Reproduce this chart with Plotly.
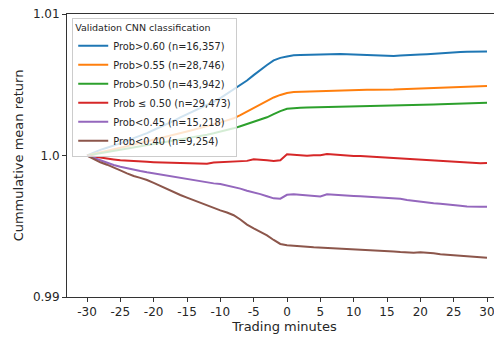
import plotly.graph_objects as go

minutes = list(range(-30, 31))
tick_minutes = list(range(-30, 31, 5))
tick_labels = [str(m) for m in tick_minutes]

names = ["Prob>0.60 (n=16,357)", "Prob>0.55 (n=28,746)", "Prob>0.50 (n=43,942)",
         "Prob \u2264 0.50 (n=29,473)", "Prob<0.45 (n=15,218)", "Prob<0.40 (n=9,254)"]
colors = ["#1f77b4", "#ff7f0e", "#2ca02c", "#d62728", "#9467bd", "#8c564b"]

p60 = [1.0, 1.00022, 1.00040, 1.00055, 1.00068, 1.00086, 1.00105, 1.00122, 1.00140, 1.00158,
       1.00180, 1.00200, 1.00222, 1.00244, 1.00270, 1.00292, 1.00312, 1.00333, 1.00355, 1.00380,
       1.00405, 1.00435, 1.00465, 1.00495, 1.00530, 1.00568, 1.00605, 1.00640, 1.00672, 1.00690,
       1.00700, 1.00708, 1.00710, 1.00712, 1.00713, 1.00715, 1.00714, 1.00716, 1.00718, 1.00716,
       1.00714, 1.00712, 1.00709, 1.00706, 1.00704, 1.00703, 1.00704, 1.00706, 1.00710, 1.00712,
       1.00714, 1.00716, 1.00720, 1.00723, 1.00726, 1.00728, 1.00731, 1.00733, 1.00734, 1.00734,
       1.00735]
p55 = [1.0, 1.00010, 1.00022, 1.00033, 1.00044, 1.00055, 1.00066, 1.00077, 1.00088, 1.00100,
       1.00111, 1.00122, 1.00134, 1.00146, 1.00158, 1.00170, 1.00182, 1.00194, 1.00207, 1.00220,
       1.00234, 1.00248, 1.00263, 1.00285, 1.00310, 1.00335, 1.00360, 1.00385, 1.00410, 1.00428,
       1.00442, 1.00448, 1.00450, 1.00452, 1.00454, 1.00456, 1.00457, 1.00459, 1.00461, 1.00462,
       1.00463, 1.00464, 1.00465, 1.00464, 1.00463, 1.00464, 1.00466, 1.00468, 1.00470, 1.00472,
       1.00474, 1.00476, 1.00478, 1.00480, 1.00482, 1.00484, 1.00486, 1.00488, 1.00489, 1.00490,
       1.00491]
p50 = [1.0, 1.00008, 1.00016, 1.00024, 1.00031, 1.00039, 1.00047, 1.00055, 1.00063, 1.00072,
       1.00080, 1.00088, 1.00095, 1.00102, 1.00110, 1.00118, 1.00127, 1.00137, 1.00147, 1.00157,
       1.00168, 1.00180, 1.00192, 1.00207, 1.00222, 1.00237, 1.00252, 1.00270, 1.00292, 1.00314,
       1.00330, 1.00336, 1.00338, 1.00339, 1.00340, 1.00341, 1.00342, 1.00343, 1.00344, 1.00345,
       1.00346, 1.00346, 1.00347, 1.00347, 1.00348, 1.00348, 1.00349, 1.00350, 1.00352, 1.00354,
       1.00356, 1.00358, 1.00360, 1.00362, 1.00364, 1.00366, 1.00368, 1.00370, 1.00371, 1.00372,
       1.00373]
le50 = [1.0, 0.99992, 0.99985, 0.99978, 0.99972, 0.99966, 0.99962, 0.99959, 0.99957, 0.99955,
        0.99953, 0.99952, 0.99950, 0.99951, 0.99949, 0.99947, 0.99948, 0.99945, 0.99941, 0.99950,
        0.99953, 0.99955, 0.99957, 0.99960, 0.99962, 0.99974, 0.99972, 0.99966, 0.99962, 0.99966,
        1.00008, 1.00004, 1.00000, 0.99999, 1.00001, 1.00002, 1.00010, 1.00006, 1.00001, 0.99998,
        0.99997, 0.99996, 0.99993, 0.99990, 0.99989, 0.99987, 0.99984, 0.99980, 0.99976, 0.99972,
        0.99969, 0.99966, 0.99962, 0.99961, 0.99960, 0.99957, 0.99952, 0.99947, 0.99944, 0.99946,
        0.99947]
p45 = [1.0, 0.99982, 0.99964, 0.99948, 0.99933, 0.99921, 0.99909, 0.99898, 0.99890, 0.99881,
       0.99873, 0.99864, 0.99856, 0.99847, 0.99839, 0.99834, 0.99826, 0.99818, 0.99811, 0.99803,
       0.99798, 0.99789, 0.99780, 0.99766, 0.99751, 0.99740, 0.99727, 0.99712, 0.99697, 0.99695,
       0.99722, 0.99726, 0.99722, 0.99718, 0.99714, 0.99710, 0.99726, 0.99722, 0.99719, 0.99716,
       0.99714, 0.99712, 0.99709, 0.99707, 0.99706, 0.99705, 0.99702, 0.99694, 0.99686, 0.99679,
       0.99673, 0.99667, 0.99662, 0.99659, 0.99656, 0.99650, 0.99645, 0.99640, 0.99637, 0.99638,
       0.99638]
p40 = [1.0, 0.99975, 0.99952, 0.99935, 0.99917, 0.99895, 0.99874, 0.99855, 0.99842, 0.99827,
       0.99806, 0.99784, 0.99763, 0.99742, 0.99721, 0.99702, 0.99683, 0.99665, 0.99646, 0.99627,
       0.99612, 0.99597, 0.99578, 0.99548, 0.99512, 0.99485, 0.99462, 0.99435, 0.99403, 0.99375,
       0.99366, 0.99364, 0.99360, 0.99355, 0.99351, 0.99349, 0.99346, 0.99344, 0.99342, 0.99340,
       0.99338, 0.99336, 0.99333, 0.99330, 0.99328, 0.99325, 0.99322, 0.99318, 0.99315, 0.99313,
       0.99316, 0.99315, 0.99309, 0.99302, 0.99298, 0.99296, 0.99292, 0.99286, 0.99281, 0.99280,
       0.99278]

series = [p60, p55, p50, le50, p45, p40]

fig = go.Figure()
for name, col, vals in zip(names, colors, series):
    fig.add_trace(go.Scatter(x=minutes, y=vals, mode="lines", name=name,
                             line=dict(color=col, width=2)))

# page body has an 8px margin, so the figure is shrunk/offset to land where the reference is
fig.update_layout(
    width=494, height=332,
    margin=dict(l=59, r=0, t=6, b=43),
    plot_bgcolor="white", paper_bgcolor="white",
    font=dict(family="DejaVu Sans", size=12, color="#262626"),
    legend=dict(
        title=dict(text="Validation CNN classification", font=dict(size=9.5)),
        font=dict(size=9.8),
        x=0.012, y=0.986, xanchor="left", yanchor="top",
        bgcolor="rgba(255,255,255,0.8)", bordercolor="#cccccc", borderwidth=1,
        tracegroupgap=0, itemwidth=30,
    ),
)
fig.update_xaxes(
    range=[-33, 32.25], tickvals=tick_minutes, ticktext=tick_labels,
    tickfont=dict(size=12), ticklabeloverflow="allow",
    ticks="outside", ticklen=4, tickcolor="#333", showgrid=False, zeroline=False,
    showline=True, linecolor="#333", linewidth=1, mirror=True,
    title=dict(text="Trading minutes", standoff=2, font=dict(size=13)),
)
fig.update_yaxes(
    range=[0.99, 1.01], tickvals=[0.99, 1.0, 1.01], ticktext=["0.99", "1.0", "1.01"],
    tickfont=dict(size=12), ticklabeloverflow="allow",
    ticks="outside", ticklen=4, tickcolor="#333", showgrid=False, zeroline=False,
    showline=True, linecolor="#333", linewidth=1,
    title=dict(text="Cummulative mean return", standoff=6, font=dict(size=13)),
)

fig.write_html("out.html")
